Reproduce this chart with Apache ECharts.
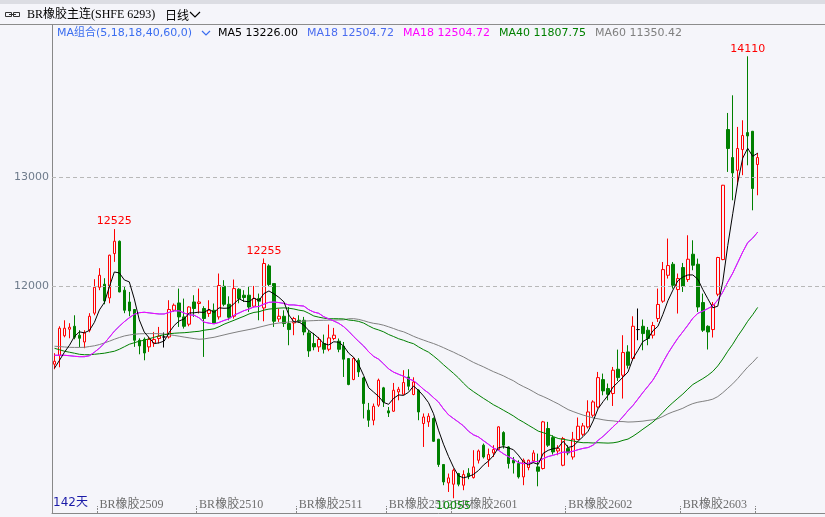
<!DOCTYPE html>
<html><head><meta charset="utf-8">
<script src="https://cdn.jsdelivr.net/npm/echarts@6/dist/echarts.min.js"></script>
<style>html,body{margin:0;padding:0;background:#f5f5fa;}#c{width:825px;height:517px;}</style>
</head><body><div id="c"></div>
<script>
// ---- data ----
const opens = [11285,11367,11546,11606,11633,11551,11489,11597,11753,11991,
12019,11893,12300,12413,11964,11856,11787,11505,11514,11444,
11480,11521,11535,11535,11780,11847,11719,11652,11856,11842,
11796,11750,11780,11719,12000,11835,11725,11973,11918,11918,
11817,11887,11801,12187,12025,11700,11725,11658,11664,11688,
11688,11572,11475,11444,11475,11422,11521,11496,11450,11337,
11145,11321,11159,10863,10771,10909,11068,10857,10854,11031,
11009,11168,11007,11046,10741,10756,10787,10597,10365,10196,
10184,10282,10175,10285,10245,10404,10542,10410,10471,10502,
10658,10526,10404,10374,10251,10337,10398,10343,10328,10695,
10612,10489,10358,10511,10434,10594,10642,10710,10817,10893,
11144,11062,11016,11239,11184,11398,11337,11603,11633,11597,
11551,11704,11863,12101,12202,11970,12172,12062,12294,12202,
11851,11633,11603,11927,12245,13438,13181,13064,13254,13410,
13422,13117];
const closes = [11312,11615,11615,11624,11532,11523,11572,11725,11991,12101,
11866,12285,12413,11948,11780,11774,11505,11453,11388,11512,
11512,11542,11535,11787,11826,11719,11633,11810,11796,11856,
11704,11780,11664,12007,11835,11716,11979,11887,11897,11810,
11887,11863,12209,12016,11679,11725,11658,11603,11704,11673,
11581,11407,11444,11512,11422,11526,11551,11422,11331,11099,
11337,11214,10924,10771,10899,11138,10939,10838,11046,11055,
11117,11083,11122,10847,10801,10808,10578,10365,10205,10242,
10312,10184,10273,10257,10343,10489,10434,10456,10502,10710,
10542,10374,10379,10251,10404,10404,10471,10303,10756,10542,
10480,10511,10603,10471,10597,10716,10719,10847,10939,11162,
11040,11009,11230,11162,11392,11275,11633,11603,11566,11521,
11640,11833,12153,12190,12009,12071,12000,12248,12193,11810,
11597,11581,11833,12264,12927,13264,13040,13264,13383,13379,
12897,13181];
const lows = [11239,11257,11532,11523,11514,11441,11432,11578,11734,11964,
11835,11844,12224,11945,11753,11725,11444,11376,11321,11398,
11444,11475,11438,11521,11765,11627,11612,11633,11719,11750,
11352,11719,11658,11695,11817,11688,11704,11844,11856,11765,
11810,11688,11679,12000,11627,11673,11627,11459,11551,11664,
11551,11352,11413,11398,11383,11404,11505,11395,11168,11092,
11138,11168,10787,10710,10725,10893,10893,10801,10847,10954,
11007,11046,11000,10771,10526,10710,10572,10343,10175,10113,
10055,10165,10129,10230,10236,10374,10420,10343,10434,10496,
10511,10328,10282,10236,10175,10312,10386,10165,10319,10526,
10456,10450,10349,10450,10410,10588,10624,10695,10801,10878,
11000,10954,10902,11131,10970,11245,11321,11505,11413,11459,
11521,11673,11848,12071,11979,11750,11948,12040,12147,11765,
11581,11420,11530,11909,12239,13049,12789,12927,13019,13110,
12697,12835];
const highs = [11386,11633,11688,11661,11734,11597,11597,11753,12065,12166,
12074,12290,12525,12420,12000,11948,11790,11523,11530,11536,
11581,11627,11576,11872,11842,11979,11887,11817,11918,11979,
11817,11872,11842,12117,12056,11908,12062,11982,11964,12000,
12003,11933,12255,12202,12028,11796,11780,11810,11719,11734,
11719,11597,11572,11535,11557,11649,11618,11521,11489,11340,
11349,11340,11168,10930,10924,11153,11077,10893,11113,11077,
11230,11239,11165,11055,10833,10835,10796,10600,10367,10282,
10328,10288,10312,10331,10496,10502,10557,10511,10542,10716,
10670,10533,10434,10404,10420,10410,10496,10465,10765,10756,
10633,10542,10618,10542,10664,10796,10746,10954,10954,11214,
11199,11108,11260,11419,11551,11459,11725,11796,11695,11627,
11673,11979,12223,12438,12223,12117,12214,12468,12422,12254,
11933,11642,11856,12270,12930,13590,13752,13462,13523,14110,
13425,13223];
// moving-average values on the left edge (history before the first visible day)
const ma5Head = [11248,11321,11395,11459];
const ma18Head = [11367,11367,11367,11363,11358,11354,11354,11363,11395,11432,11477,11532,11588,11633,11675,11711,11743];
const ma40Head = [11431,11418,11404,11395,11386,11376,11372,11372,11376,11381,11386,11395,11404,11422,11445,11468,11482,11496,11505,11519,
11532,11546,11555,11565,11569,11572,11574,11578,11583,11587,11597,11603,11610,11629,11652,11670,11688,11707,11725];
const ma60Head = [11450,11447,11443,11440,11439,11439,11440,11447,11454,11465,11480,11496,11514,11530,11544,11553,11560,11564,11565,11566,
11566,11565,11562,11556,11549,11542,11534,11527,11520,11514,11517,11525,11532,11543,11554,11565,11575,11585,11594,11603,
11612,11624,11635,11647,11656,11663,11667,11672,11676,11678,11681,11683,11685,11687,11688,11689,11690,11691,11692];
// axis labels / annotations
const contractTickIdx = [9,29,49,67,80,103,126,141];
const contractLabels = ['BR橡胶2509','BR橡胶2510','BR橡胶2511','BR橡胶2512','BR橡胶2601','BR橡胶2602','BR橡胶2603',''];
const priceTicks = [12000,13000];
const legendNames = ['MA5','MA18','MA18','MA40','MA60'];
const legendValues = ['13226.00','12504.72','12504.72','11807.75','11350.42'];
const peakIdx = [12,42,139];
const troughIdx = [80];
const dayCount = '142天';

// ---- build ----
const SLOTS = 155;
const cats = Array.from({length:SLOTS},(_,i)=>String(i));
const candle = opens.map((o,i)=>[o,closes[i],lows[i],highs[i]]);
function ma(n, head){
  return closes.map((c,i)=>{
    if(i<n-1) return head[i];
    let s=0; for(let k=i-n+1;k<=i;k++) s+=closes[k];
    return +(s/n).toFixed(2);
  });
}
const tickSet = new Set(contractTickIdx);
const labelMap = {}; contractTickIdx.forEach((t,k)=>labelMap[t]=contractLabels[k]);
const legendColors = ['#000000','#4a6cf0','#ff00ff','#008000','#808080'];
const legendX = [218,307,403,499,595];

const chart = echarts.init(document.getElementById('c'), null, {renderer:'canvas'});
const sans = '11px "DejaVu Sans", sans-serif';
const graphics = [
  {type:'rect', shape:{x:0,y:0,width:825,height:4}, style:{fill:'#dcdde3'}, silent:true},
  {type:'line', shape:{x1:0,y1:24.5,x2:825,y2:24.5}, style:{stroke:'#8c8c8c',lineWidth:1}, silent:true},
  {type:'rect', shape:{x:5.5,y:12.5,width:6,height:4}, style:{fill:'none',stroke:'#333',lineWidth:1}},
  {type:'rect', shape:{x:13.5,y:12.5,width:6,height:4}, style:{fill:'none',stroke:'#333',lineWidth:1}},
  {type:'line', shape:{x1:9,y1:14.5,x2:16,y2:14.5}, style:{stroke:'#333',lineWidth:1}},
  {type:'text', x:27, y:15, style:{text:'BR橡胶主连(SHFE 6293)', fill:'#000', font:'12px "Liberation Serif","Noto Sans CJK SC", serif', verticalAlign:'middle'}},
  {type:'text', x:165, y:15, style:{text:'日线', fill:'#000', font:'12px "Noto Sans CJK SC", sans-serif', verticalAlign:'middle'}},
  {type:'polyline', shape:{points:[[190,12],[195,17],[200,12]]}, style:{stroke:'#000',lineWidth:1.2,fill:'none'}},
  {type:'text', x:57, y:33, style:{text:'MA组合(5,18,18,40,60,0)', fill:'#3a6df0', font:'11px "DejaVu Sans","Noto Sans CJK SC", sans-serif', verticalAlign:'middle'}},
  {type:'polyline', shape:{points:[[202,31],[206,35],[210,31]]}, style:{stroke:'#3a6df0',lineWidth:1.2,fill:'none'}},
  {type:'text', x:53, y:503, style:{text:dayCount, fill:'#1a1aa8', font:'12px "DejaVu Sans","Noto Sans CJK SC", sans-serif', verticalAlign:'middle'}}
];
legendNames.forEach((n,k)=>{
  graphics.push({type:'text', x:legendX[k], y:33, style:{text:n+' '+legendValues[k], fill:legendColors[k], font:sans, verticalAlign:'middle'}});
});

const lineS = (name,data,color,z)=>({name,type:'line',data,showSymbol:false,symbol:'none',z,
  lineStyle:{width:1,color},itemStyle:{color},animation:false,silent:true});

chart.setOption({
  backgroundColor:'#f5f5fa',
  animation:false,
  graphic:graphics,
  grid:{left:52, top:25, width:775, bottom:4, containLabel:false},
  xAxis:{type:'category', data:cats, boundaryGap:true,
    axisLine:{show:true, lineStyle:{color:'#888'}},
    axisTick:{show:true, inside:true, length:7, interval:(i)=>tickSet.has(i), lineStyle:{color:'#888', type:[2,1]}},
    axisLabel:{show:true, inside:true, margin:2, align:'left', interval:(i)=>tickSet.has(i),
      formatter:(v,i)=>labelMap[i]||'', color:'#6e6e6e', fontSize:12,
      fontFamily:'"Liberation Serif","Noto Sans CJK SC", serif'},
    splitLine:{show:false}},
  yAxis:{type:'value', min:9920, max:14397, position:'left',
    axisLine:{show:true, lineStyle:{color:'#888'}},
    axisTick:{show:false},
    splitLine:{show:false},
    axisLabel:{show:true, margin:3, color:'#6e7b8b', fontSize:11, fontFamily:'"DejaVu Sans", sans-serif',
      customValues:priceTicks,
      formatter:(v)=>priceTicks.includes(v)?String(v):''}},
  series:[
    {name:'K', type:'candlestick', data:candle, barWidth:3, z:2,
      itemStyle:{color:'#f5f5fa', color0:'#008000', borderColor:'#ff0000', borderColor0:'#008000', borderColorDoji:'#000000', borderWidth:1},
      markLine:{silent:true, symbol:'none', label:{show:false},
        lineStyle:{color:'#b8b8b8', type:[4,3], width:1},
        data:priceTicks.map(p=>({yAxis:p}))},
      markPoint:{symbol:'circle', symbolSize:0, silent:true,
        data:[
          ...peakIdx.map(i=>({coord:[String(i),highs[i]], value:highs[i],
            label:{show:true, position:'top', distance:2, color:'#ff0000', fontSize:11, fontFamily:'"DejaVu Sans", sans-serif', formatter:String(highs[i])}})),
          ...troughIdx.map(i=>({coord:[String(i),lows[i]], value:lows[i],
            label:{show:true, position:'bottom', distance:2, color:'#109010', fontSize:11, fontFamily:'"DejaVu Sans", sans-serif', formatter:String(lows[i])}}))
        ]}},
    lineS('MA60', ma(60,ma60Head), '#808080', 3),
    lineS('MA40', ma(40,ma40Head), '#008000', 3),
    lineS('MA18b', ma(18,ma18Head), '#4a6cf0', 3),
    lineS('MA18', ma(18,ma18Head), '#ff00ff', 4),
    lineS('MA5', ma(5,ma5Head), '#000000', 5)
  ]
});
</script>
</body></html>
